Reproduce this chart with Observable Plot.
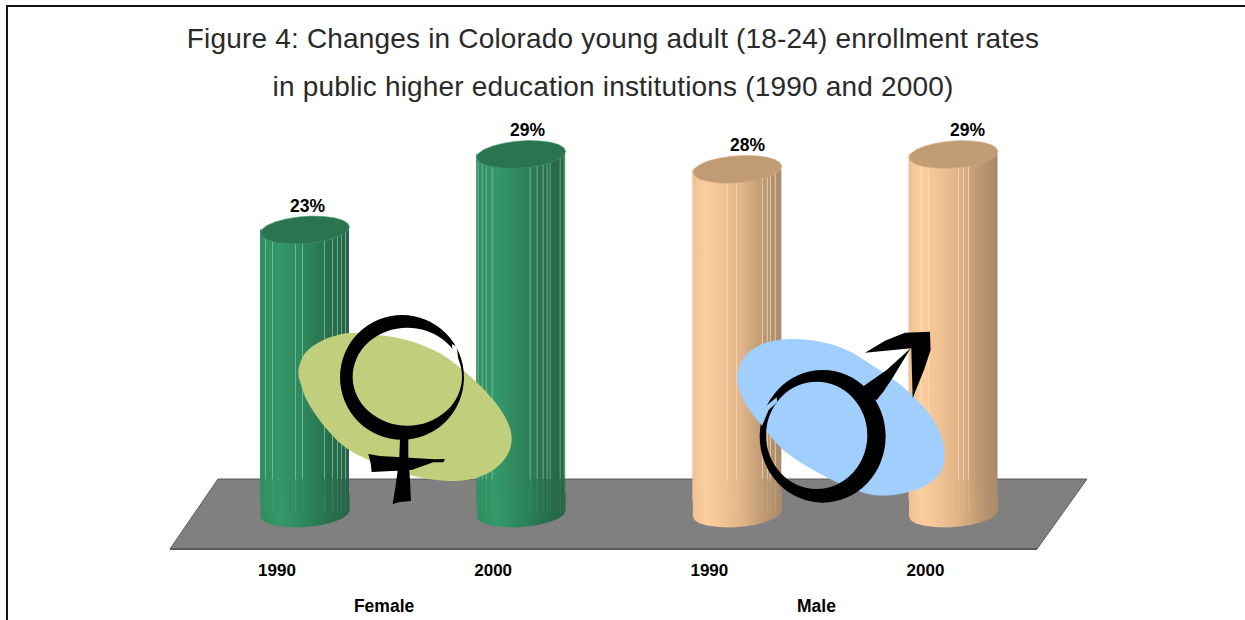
<!DOCTYPE html>
<html><head><meta charset="utf-8">
<script src="https://cdn.jsdelivr.net/npm/d3@7"></script>
<script src="https://cdn.jsdelivr.net/npm/@observablehq/plot@0.6"></script>
<style>
html,body{margin:0;padding:0;background:#fff;overflow:hidden;width:1245px;height:620px}
#frame{position:absolute;left:6px;top:5px;width:1239px;height:615px;border-left:2px solid #141414;border-top:2px solid #141414;box-sizing:border-box}
#title{position:absolute;left:0;top:15px;width:1226px;text-align:center;font:28px/48px "Liberation Sans",sans-serif;color:#2a2a2a;letter-spacing:.18px}
#chart{position:absolute;left:0;top:112px}
svg{overflow:visible}
</style></head><body>
<div id="frame"></div>
<div id="title">Figure 4: Changes in Colorado young adult (18-24) enrollment rates<br>in public higher education institutions (1990 and 2000)</div>
<div id="chart"></div>
<script>
const groups = ["Female", "Male"];
const years = ["1990", "2000", "1990", "2000"];
const barGroup = ["Female", "Female", "Male", "Male"];
const values = [22.9, 29, 27.8, 29];
const labels = ["23%", "29%", "28%", "29%"];
// highlights on the faceted cylinder sides, px from the bar centre
const facets = [
  [-39.5,-32.5,-9.5,-2.5,19.5,27.5,32.5,36.5,40.5],
  [-43,-39,-35,-29,9,16,22,26,29,39,43],
  [-10,-1,25,30,33,38],
  [-33,-25,5,10,15]
];

const bars = values.map((v,i)=>({i,v,year:years[i],group:barGroup[i],label:labels[i]}));
const HALF = 44.5/216.2;
const PX = 1/216.2;
const RX = 44.5, RY = 13.6, SKEW = 3;

// polygonal top of a cylinder
const cap = {draw(ctx){
  const n = 22;
  for(let k=0;k<n;k++){
    const t = 2*Math.PI*k/n;
    const x = RX*Math.cos(t), y = RY*Math.sin(t) - SKEW*Math.cos(t);
    k? ctx.lineTo(x,y) : ctx.moveTo(x,y);
  }
  ctx.closePath();
}};
// rounded foot of a cylinder: lower half of the same ellipse, closed upwards
const foot = {draw(ctx){
  const n = 11;
  ctx.moveTo(RX,-20);
  for(let k=0;k<=n;k++){
    const t = Math.PI*k/n;
    ctx.lineTo(RX*Math.cos(t), RY*Math.sin(t) - SKEW*Math.cos(t));
  }
  ctx.lineTo(-RX,-20);
  ctx.closePath();
}};

function gradient(defs,id,stops){
  const g = defs.append("linearGradient").attr("id",id).attr("x1",0).attr("x2",1).attr("y1",0).attr("y2",0);
  stops.forEach(([o,c])=>g.append("stop").attr("offset",o).attr("stop-color",c));
}
function defsMark(){
  const defs = d3.create("svg:defs");
  gradient(defs,"cylF",[[0,"#2f8d60"],[.22,"#34996a"],[.55,"#2d8259"],[.78,"#286f4d"],[1,"#266347"]]);
  gradient(defs,"cylM",[[0,"#efc091"],[.15,"#fdcf9e"],[.55,"#e2b588"],[.8,"#bd9872"],[1,"#a88a68"]]);
  return defs.node();
}
const closed = d3.line().curve(d3.curveCatmullRomClosed);
function shape(g,pts,fill,curved){
  g.append("path").attr("fill",fill).attr("d",curved?closed(pts):"M"+pts.join("L")+"Z");
}
function ell(cx,cy,rx,ry){
  return `M${cx-rx},${cy}a${rx},${ry} 0 1,0 ${2*rx},0a${rx},${ry} 0 1,0 ${-2*rx},0Z`;
}
function floorMark(i,{x,y}){
  const yb=y(0), xb=x(0);
  const g=d3.create("svg:g");
  g.append("path")
    .attr("fill","#808080").attr("stroke","#5a5a5a").attr("stroke-width",1)
    .attr("d",`M${xb-86.5},${yb-34}L${xb+782.5},${yb-34}L${xb+732.5},${yb+36}L${xb-134.5},${yb+36}Z`);
  g.append("path").attr("stroke","#5a5a5a").attr("stroke-width",2).attr("d",`M${xb-134.5},${yb+36}H${xb+732.5}`);
  return g.node();
}
function emblemMark(){
  const root=d3.create("svg:g").attr("transform","translate(0,-112)");
  const f=root.append("g").attr("transform","translate(280,300) scale(0.3333)");
  shape(f,[[55,215],[75,160],[120,125],[200,100],[290,105],[380,120],[480,160],[560,220],[640,300],[680,360],[695,410],[685,460],[640,510],[560,540],[470,540],[390,525],[290,490],[200,445],[130,375],[80,300],[65,260]],"#c1cf7d",true);
  f.append("path").attr("fill-rule","evenodd").attr("fill","#000")
    .attr("d",ell(366,232,186,187)+ell(382,230,164,147));
  shape(f,[[516,132],[530,140],[537,192],[520,190]],"#ffffff");
  shape(f,[[360,415],[385,410],[385,470],[390,540],[393,603],[360,606],[338,612],[345,570],[352,520],[358,470]],"#000");
  shape(f,[[265,462],[300,468],[465,478],[495,477],[490,487],[460,487],[395,510],[275,516],[272,490]],"#000");
  const m=root.append("g").attr("transform","translate(720,320) scale(0.3333)");
  shape(m,[[52,170],[70,115],[120,75],[200,58],[300,65],[380,90],[470,145],[560,210],[640,300],[672,380],[665,450],[620,495],[540,522],[460,525],[380,500],[280,450],[190,390],[120,310],[70,240]],"#a0cefd",true);
  m.append("path").attr("fill-rule","evenodd").attr("fill","#000")
    .attr("d",ell(308,349,189,199)+ell(290,346,152,161));
  shape(m,[[110,285],[122,272],[170,232],[172,246],[146,270],[126,318]],"#a0cefd");
  shape(m,[[428,200],[500,150],[572,85],[520,170],[490,215],[470,240],[440,230]],"#000");
  shape(m,[[435,98],[495,62],[555,38],[630,35],[632,90],[612,150],[578,235],[574,85]],"#000");
  return root.node();
}
const strips = bars.flatMap(b=>facets[b.i].map(o=>({x:b.i+o*PX, v:b.v, c:b.i<2?"#8fc9a9":"#f6e2c9"})));
const font = '"Liberation Sans",Arial,sans-serif';
const isF = b=>b.group==="Female";
const chart = Plot.plot({
  width:1245, height:508, marginTop:0, marginLeft:0, marginRight:0, marginBottom:56,
  style:{background:"transparent",fontFamily:font,overflow:"visible"},
  x:{type:"linear",domain:[0,3],range:[304.5,953]},
  y:{type:"linear",domain:[0,29],range:[401,42],axis:null},
  marks:[
    defsMark,
    floorMark,
    Plot.rectY(bars.filter(isF),{x1:b=>b.i-HALF,x2:b=>b.i+HALF,y1:1,y2:"v",fill:"url(#cylF)"}),
    Plot.rectY(bars.filter(b=>!isF(b)),{x1:b=>b.i-HALF,x2:b=>b.i+HALF,y1:1,y2:"v",fill:"url(#cylM)"}),
    Plot.dot(bars.filter(isF),{x:"i",y:0,symbol:foot,r:5,fill:"url(#cylF)",stroke:"none"}),
    Plot.dot(bars.filter(b=>!isF(b)),{x:"i",y:0,symbol:foot,r:5,fill:"url(#cylM)",stroke:"none"}),
    Plot.ruleX(strips,{x:"x",y1:0,y2:2.75,stroke:"c",strokeWidth:1,strokeOpacity:.18}),
    Plot.ruleX(strips,{x:"x",y1:2.75,y2:"v",stroke:"c",strokeWidth:1,strokeOpacity:.7}),
    Plot.dot(bars.filter(isF),{x:"i",y:"v",symbol:cap,r:5,fill:"#2a744f",stroke:"#3c9a6d",strokeWidth:.6}),
    Plot.dot(bars.filter(b=>!isF(b)),{x:"i",y:"v",symbol:cap,r:5,fill:"#c19b73",stroke:"#d5ae84",strokeWidth:.6}),
    Plot.text(bars,{x:b=>b.i*1.0176+0.012,y:"v",dy:-24,text:"label",fontSize:17.5,fontWeight:"bold",fill:"#000"}),
    Plot.axisX({ticks:[0,1,2,3],tickFormat:i=>years[i],tickSize:0,tickPadding:0,dx:-28,dy:-1,fontSize:17,fontWeight:"bold",fill:"#000",label:null}),
    emblemMark,
    Plot.text(groups,{x:(g,k)=>k*2+0.5-29*PX,frameAnchor:"bottom",dy:47,text:d=>d,fontSize:17.5,fontWeight:"bold",fill:"#000"})
  ]
});
document.getElementById("chart").appendChild(chart);
</script>
</body></html>
